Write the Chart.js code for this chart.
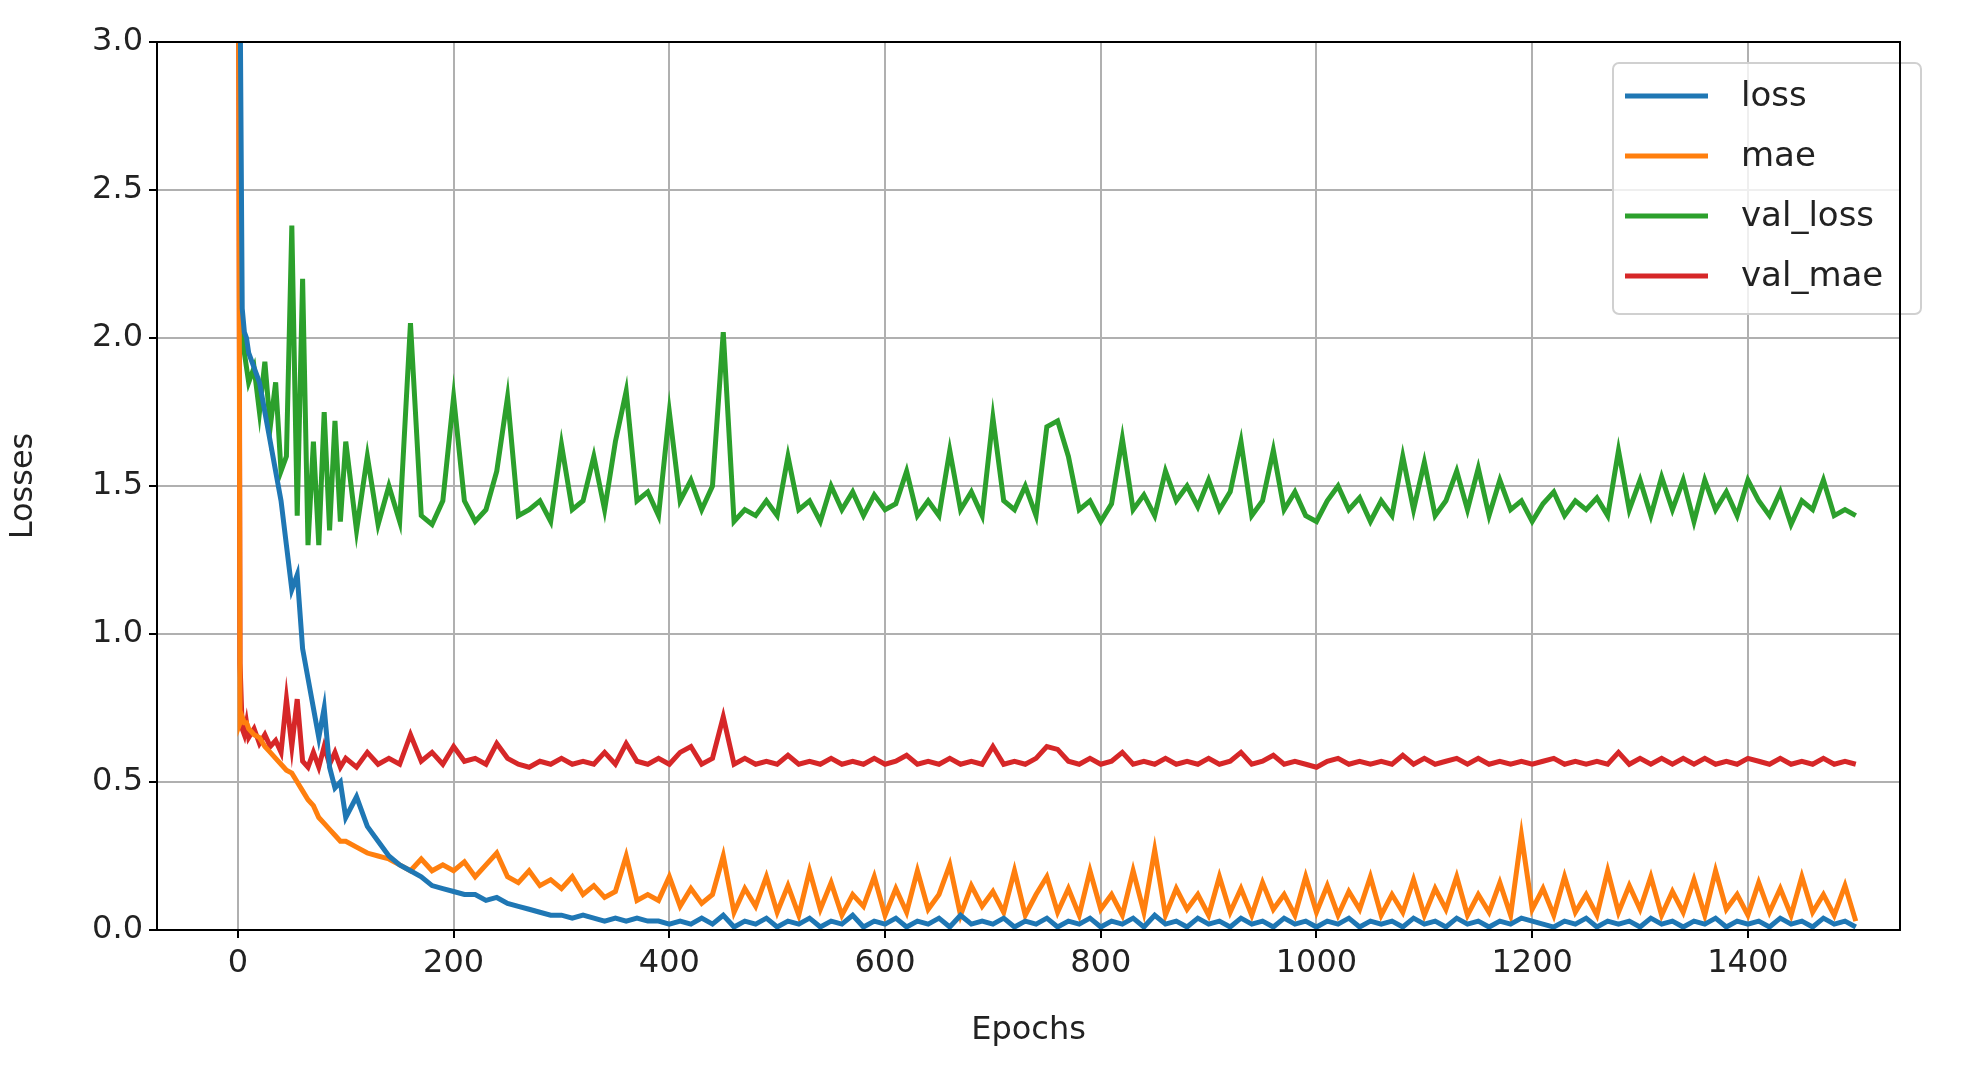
<!DOCTYPE html>
<html><head><meta charset="utf-8">
<script src="https://cdn.jsdelivr.net/npm/chart.js@4/dist/chart.umd.min.js"></script>
<style>html,body{margin:0;padding:0;background:#fff}#w{width:1962px;height:1075px}</style>
</head><body><div id="w"><canvas id="c"></canvas></div>
<script>
const epochs = [0,2,4,6,8,10,15,20,25,30,35,40,45,50,55,60,65,70,75,80,85,90,95,100,
110,120,130,140,150,160,170,180,190,200,210,220,230,240,250,260,270,280,290,300,
310,320,330,340,350,360,370,380,390,400,410,420,430,440,450,460,470,480,490,500,
510,520,530,540,550,560,570,580,590,600,610,620,630,640,650,660,670,680,690,700,
710,720,730,740,750,760,770,780,790,800,810,820,830,840,850,860,870,880,890,900,
910,920,930,940,950,960,970,980,990,1000,1010,1020,1030,1040,1050,1060,1070,1080,1090,1100,
1110,1120,1130,1140,1150,1160,1170,1180,1190,1200,1210,1220,1230,1240,1250,1260,1270,1280,1290,1300,
1310,1320,1330,1340,1350,1360,1370,1380,1390,1400,1410,1420,1430,1440,1450,1460,1470,1480,1490,1500];

const loss = [4.5,3.2,2.1,2.02,2.0,1.95,1.9,1.85,1.75,1.65,1.55,1.45,1.3,1.15,1.2,0.95,0.85,0.75,0.65,0.75,0.55,0.48,0.5,0.38,
0.45,0.35,0.3,0.25,0.22,0.2,0.18,0.15,0.14,0.13,0.12,0.12,0.1,0.11,0.09,0.08,0.07,0.06,0.05,0.05,
0.04,0.05,0.04,0.03,0.04,0.03,0.04,0.03,0.03,0.02,0.03,0.02,0.04,0.02,0.05,0.01,0.03,0.02,0.04,0.01,
0.03,0.02,0.04,0.01,0.03,0.02,0.05,0.01,0.03,0.02,0.04,0.01,0.03,0.02,0.04,0.01,0.05,0.02,0.03,0.02,
0.04,0.01,0.03,0.02,0.04,0.01,0.03,0.02,0.04,0.01,0.03,0.02,0.04,0.01,0.05,0.02,0.03,0.01,0.04,0.02,
0.03,0.01,0.04,0.02,0.03,0.01,0.04,0.02,0.03,0.01,0.03,0.02,0.04,0.01,0.03,0.02,0.03,0.01,0.04,0.02,
0.03,0.01,0.04,0.02,0.03,0.01,0.03,0.02,0.04,0.03,0.02,0.01,0.03,0.02,0.04,0.01,0.03,0.02,0.03,0.01,
0.04,0.02,0.03,0.01,0.03,0.02,0.04,0.01,0.03,0.02,0.03,0.01,0.04,0.02,0.03,0.01,0.04,0.02,0.03,0.01];

const mae = [4.5,0.7,0.72,0.7,0.7,0.68,0.66,0.65,0.62,0.6,0.58,0.56,0.54,0.53,0.5,0.47,0.44,0.42,0.38,0.36,0.34,0.32,0.3,0.3,
0.28,0.26,0.25,0.24,0.22,0.2,0.24,0.2,0.22,0.2,0.23,0.18,0.22,0.26,0.18,0.16,0.2,0.15,0.17,0.14,
0.18,0.12,0.15,0.11,0.13,0.25,0.1,0.12,0.1,0.18,0.08,0.14,0.09,0.12,0.25,0.06,0.14,0.08,0.18,0.06,
0.15,0.05,0.2,0.07,0.16,0.05,0.12,0.08,0.18,0.05,0.14,0.06,0.2,0.07,0.12,0.22,0.05,0.15,0.08,0.13,
0.06,0.2,0.05,0.12,0.18,0.06,0.14,0.05,0.2,0.07,0.12,0.05,0.2,0.06,0.27,0.05,0.14,0.07,0.12,0.05,
0.18,0.06,0.14,0.05,0.16,0.07,0.12,0.05,0.18,0.06,0.15,0.05,0.13,0.07,0.18,0.05,0.12,0.06,0.17,0.05,
0.14,0.07,0.18,0.05,0.12,0.06,0.16,0.05,0.32,0.07,0.14,0.05,0.18,0.06,0.12,0.05,0.2,0.06,0.15,0.07,
0.18,0.05,0.13,0.06,0.17,0.05,0.2,0.07,0.12,0.05,0.16,0.06,0.14,0.05,0.18,0.06,0.12,0.05,0.15,0.03];

const val_loss = [4.5,2.2,2.0,1.95,1.9,1.85,1.9,1.75,1.92,1.7,1.85,1.55,1.6,2.38,1.4,2.2,1.3,1.65,1.3,1.75,1.35,1.72,1.38,1.65,
1.35,1.6,1.37,1.5,1.38,2.05,1.4,1.37,1.45,1.8,1.45,1.38,1.42,1.55,1.8,1.4,1.42,1.45,1.38,1.64,
1.42,1.45,1.6,1.42,1.65,1.82,1.45,1.48,1.4,1.75,1.45,1.52,1.42,1.5,2.02,1.38,1.42,1.4,1.45,1.4,
1.6,1.42,1.45,1.38,1.5,1.42,1.48,1.4,1.47,1.42,1.44,1.55,1.4,1.45,1.4,1.62,1.42,1.48,1.4,1.73,
1.45,1.42,1.5,1.4,1.7,1.72,1.6,1.42,1.45,1.38,1.44,1.66,1.42,1.47,1.4,1.55,1.45,1.5,1.43,1.52,
1.42,1.48,1.65,1.4,1.45,1.62,1.42,1.48,1.4,1.38,1.45,1.5,1.42,1.46,1.38,1.45,1.4,1.6,1.42,1.58,
1.4,1.45,1.55,1.42,1.56,1.4,1.52,1.42,1.45,1.38,1.44,1.48,1.4,1.45,1.42,1.46,1.4,1.62,1.42,1.52,
1.4,1.53,1.42,1.52,1.38,1.52,1.42,1.48,1.4,1.52,1.45,1.4,1.48,1.37,1.45,1.42,1.52,1.4,1.42,1.4];

const val_mae = [4.5,0.9,0.68,0.66,0.7,0.65,0.68,0.63,0.66,0.62,0.64,0.6,0.78,0.62,0.78,0.57,0.55,0.6,0.55,0.62,0.56,0.6,0.55,0.58,
0.55,0.6,0.56,0.58,0.56,0.66,0.57,0.6,0.56,0.62,0.57,0.58,0.56,0.63,0.58,0.56,0.55,0.57,0.56,0.58,
0.56,0.57,0.56,0.6,0.56,0.63,0.57,0.56,0.58,0.56,0.6,0.62,0.56,0.58,0.72,0.56,0.58,0.56,0.57,0.56,
0.59,0.56,0.57,0.56,0.58,0.56,0.57,0.56,0.58,0.56,0.57,0.59,0.56,0.57,0.56,0.58,0.56,0.57,0.56,0.62,
0.56,0.57,0.56,0.58,0.62,0.61,0.57,0.56,0.58,0.56,0.57,0.6,0.56,0.57,0.56,0.58,0.56,0.57,0.56,0.58,
0.56,0.57,0.6,0.56,0.57,0.59,0.56,0.57,0.56,0.55,0.57,0.58,0.56,0.57,0.56,0.57,0.56,0.59,0.56,0.58,
0.56,0.57,0.58,0.56,0.58,0.56,0.57,0.56,0.57,0.56,0.57,0.58,0.56,0.57,0.56,0.57,0.56,0.6,0.56,0.58,
0.56,0.58,0.56,0.58,0.56,0.58,0.56,0.57,0.56,0.58,0.57,0.56,0.58,0.56,0.57,0.56,0.58,0.56,0.57,0.56];

const xTicks = [0,200,400,600,800,1000,1200,1400];
const yTicks = [0,0.5,1.0,1.5,2.0,2.5,3.0];

const series = [
  {label:'loss', data:loss, color:'#1f77b4'},
  {label:'mae', data:mae, color:'#ff7f0e'},
  {label:'val_loss', data:val_loss, color:'#2ca02c'},
  {label:'val_mae', data:val_mae, color:'#d62728'}
];
const FONT = 'DejaVu Sans';

const legendPlugin = {
  id:'mplLegend',
  afterDraw(chart){
    const ctx = chart.ctx;
    const x0=1613, y0=63, w=308, h=251;
    ctx.save();
    ctx.fillStyle='rgba(255,255,255,0.8)';
    ctx.strokeStyle='#d0d0d0'; ctx.lineWidth=2;
    ctx.beginPath(); ctx.roundRect(x0,y0,w,h,6); ctx.fill(); ctx.stroke();
    ctx.font = '34px "'+FONT+'"'; ctx.textBaseline='middle';
    series.forEach((s,i)=>{
      const y = y0+33+i*60;
      ctx.strokeStyle=s.color; ctx.lineWidth=5;
      ctx.beginPath(); ctx.moveTo(x0+12,y); ctx.lineTo(x0+95,y); ctx.stroke();
      ctx.fillStyle='#222'; ctx.fillText(s.label, x0+128, y+1);
    });
    ctx.restore();
  }
};

new Chart(document.getElementById('c'), {
  type:'line',
  data:{datasets: series.map(s=>({label:s.label, data:epochs.map((e,i)=>({x:e,y:s.data[i]})),
    borderColor:s.color, backgroundColor:s.color, borderWidth:5, pointRadius:0, tension:0}))},
  options:{
    responsive:true, maintainAspectRatio:false, animation:false,
    layout:{padding:{left:0,right:62,top:42,bottom:25}},
    plugins:{legend:{display:false}, tooltip:{enabled:false}},
    scales:{
      x:{type:'linear', min:-75, max:1541,
        afterBuildTicks(s){ s.ticks = xTicks.map(v=>({value:v})); },
        afterFit(s){ s.height = 120; },
        grid:{color:'#b0b0b0', lineWidth:2, drawTicks:true, tickLength:8, tickColor:'#000'},
        border:{color:'#000', width:2},
        ticks:{color:'#222', font:{family:FONT,size:32}, padding:6, maxRotation:0, callback:v=>String(v)},
        title:{display:true, text:'Epochs', color:'#222', font:{family:FONT,size:32}, padding:{top:0,bottom:0}}
      },
      y:{type:'linear', min:0, max:3,
        afterBuildTicks(s){ s.ticks = yTicks.map(v=>({value:v})); },
        afterFit(s){ s.width = 157; },
        grid:{color:'#b0b0b0', lineWidth:2, tickLength:8, tickColor:'#000'},
        border:{color:'#000', width:2},
        ticks:{color:'#222', font:{family:FONT,size:32}, padding:6, callback:v=>v.toFixed(1)},
        title:{display:true, text:'Losses', color:'#222', font:{family:FONT,size:32}, padding:{bottom:4}}
      }
    }
  },
  plugins:[legendPlugin, {id:'frame', afterDraw(c){const a=c.chartArea,x=c.ctx;x.save();x.strokeStyle='#000';x.lineWidth=2;x.strokeRect(a.left,a.top,a.right-a.left,a.bottom-a.top);x.restore();}}]
});
</script></body></html>
